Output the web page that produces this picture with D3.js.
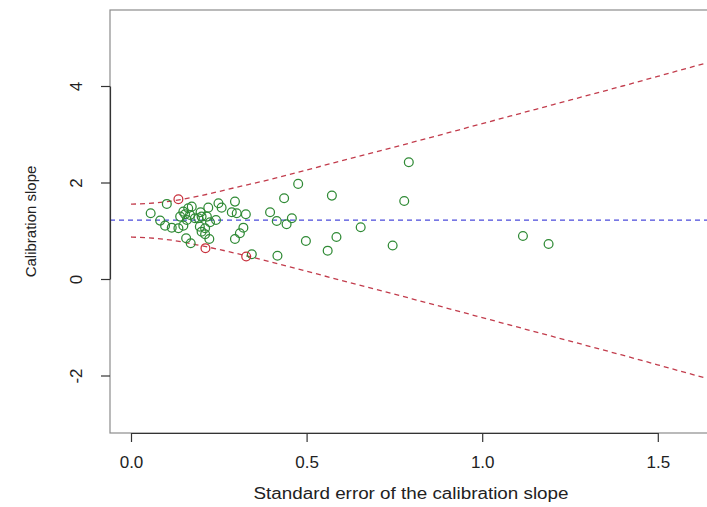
<!DOCTYPE html>
<html><head><meta charset="utf-8">
<script src="https://cdn.jsdelivr.net/npm/d3@7"></script>
<style>body{margin:0;background:#fff}</style>
</head><body>
<svg id="chart" width="707" height="507"></svg>
<script>
// Studies inside the funnel (green)
const studySE = [0.102,0.056,0.083,0.097,0.116,0.135,0.149,0.140,0.149,0.163,0.173,0.154,0.168,0.159,0.182,0.192,0.201,0.216,0.196,0.211,0.201,0.211,0.225,0.242,0.249,0.258,0.220,0.198,0.157,0.170,0.223,0.296,0.287,0.301,0.327,0.320,0.310,0.296,0.344,0.396,0.415,0.436,0.443,0.458,0.417,0.498,0.476,0.572,0.778,0.791,0.560,0.585,0.745,1.116,1.189,0.654];
const studySlope = [1.556,1.363,1.210,1.106,1.064,1.052,1.106,1.293,1.396,1.467,1.500,1.342,1.328,1.224,1.259,1.259,1.293,1.293,1.085,1.052,0.981,0.927,1.176,1.224,1.571,1.479,1.479,1.384,0.844,0.741,0.830,1.604,1.384,1.363,1.342,1.064,0.948,0.830,0.512,1.384,1.203,1.674,1.135,1.259,0.483,0.788,1.971,1.728,1.618,2.421,0.587,0.871,0.695,0.892,0.726,1.073];
// Studies on/outside the funnel limits (red)
const outlierSE = [0.135,0.212,0.328];
const outlierSlope = [1.654,0.639,0.467];
// Funnel limits
const funnelSE = [0,0.1,0.2,0.3,0.4,0.5,0.6,0.8,1.0,1.2,1.4,1.6,1.8];
const funnelUpper = [1.55,1.60,1.73,1.90,2.07,2.26,2.45,2.83,3.22,3.61,4.00,4.40,4.79];
const funnelLower = [0.87,0.82,0.69,0.53,0.35,0.16,-0.03,-0.41,-0.80,-1.19,-1.58,-1.98,-2.37];
const pooledSlope = 1.22;
const xTicks = [0,0.5,1.0,1.5];
const yTicks = [-2,0,2,4];
const xTitle = "Standard error of the calibration slope";
const yTitle = "Calibration slope";

const svg = d3.select("#chart");
const font = "'Liberation Sans', Arial, Helvetica, sans-serif";
const box = {left:110, top:10, right:712, bottom:433};

const x = d3.scaleLinear().domain([0,1.5]).range([131,657.8]);
const y = d3.scaleLinear().domain([0,4]).range([279,86]);

svg.append("rect").attr("width",707).attr("height",507).attr("fill","#fff");

svg.append("defs").append("clipPath").attr("id","plotclip")
  .append("rect").attr("x",box.left).attr("y",box.top)
  .attr("width",box.right-box.left).attr("height",box.bottom-box.top);

const plot = svg.append("g").attr("clip-path","url(#plotclip)");

// pooled line
plot.append("line")
  .attr("x1",box.left).attr("x2",box.right)
  .attr("y1",y(pooledSlope)).attr("y2",y(pooledSlope))
  .attr("stroke","#4b4bdc").attr("stroke-width",1.3).attr("stroke-dasharray","5,4");

const line = d3.line().curve(d3.curveMonotoneX);
[funnelUpper, funnelLower].forEach(arr => {
  plot.append("path")
    .attr("d", line(funnelSE.map((s,i)=>[x(s), y(arr[i])])))
    .attr("fill","none").attr("stroke","#c23c4c").attr("stroke-width",1.3)
    .attr("stroke-dasharray","5,4");
});

plot.selectAll("circle.study").data(studySE.map((s,i)=>[s,studySlope[i]]))
  .enter().append("circle").attr("class","study")
  .attr("cx",d=>x(d[0])).attr("cy",d=>y(d[1])).attr("r",4.4)
  .attr("fill","none").attr("stroke","#2f8a35").attr("stroke-width",1.25);

plot.selectAll("circle.out").data(outlierSE.map((s,i)=>[s,outlierSlope[i]]))
  .enter().append("circle").attr("class","out")
  .attr("cx",d=>x(d[0])).attr("cy",d=>y(d[1])).attr("r",4.4)
  .attr("fill","none").attr("stroke","#c8303c").attr("stroke-width",1.25);

// box
svg.append("rect").attr("x",box.left).attr("y",box.top)
  .attr("width",box.right-box.left).attr("height",box.bottom-box.top)
  .attr("fill","none").attr("stroke","#8c8c8c").attr("stroke-width",1.2);

// x axis
const gx = svg.append("g").attr("transform",`translate(0,${box.bottom})`)
  .call(d3.axisBottom(x).tickValues(xTicks).tickFormat(d3.format(".1f"))
    .tickSize(9).tickSizeOuter(0).tickPadding(14));
gx.selectAll("path,line").attr("stroke","#333").attr("stroke-width",1.2);
gx.selectAll("text").attr("font-family",font).attr("font-size",17).attr("fill","#222");

// y axis
const gy = svg.append("g").attr("transform",`translate(${box.left},0)`)
  .call(d3.axisLeft(y).tickValues(yTicks).tickFormat(d => String(d))
    .tickSize(9).tickSizeOuter(0));
gy.selectAll("path,line").attr("stroke","#333").attr("stroke-width",1.2);
gy.selectAll("text").attr("font-family",font).attr("font-size",17).attr("fill","#222")
  .attr("transform","rotate(-90)").attr("x",0).attr("y",-28).attr("dy",0)
  .attr("text-anchor","middle");

// titles
svg.append("text").attr("x",(box.left+box.right)/2).attr("y",499)
  .attr("text-anchor","middle").attr("font-family",font).attr("font-size",16)
  .attr("textLength",315).attr("lengthAdjust","spacingAndGlyphs")
  .attr("fill","#222").text(xTitle);
svg.append("text").attr("transform",`translate(36,${(box.top+box.bottom)/2}) rotate(-90)`)
  .attr("text-anchor","middle").attr("font-family",font).attr("font-size",15)
  .attr("fill","#222").text(yTitle);
</script>
</body></html>
